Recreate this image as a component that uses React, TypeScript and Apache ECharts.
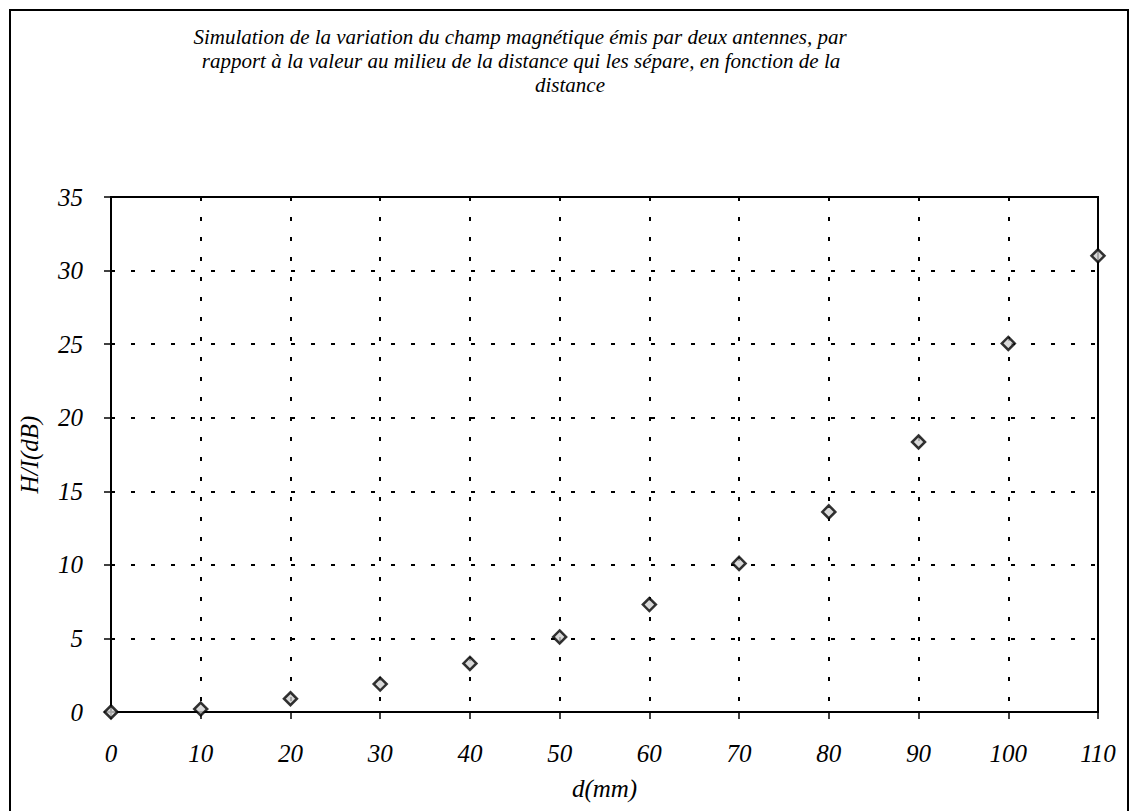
import React, { useEffect, useRef } from "react";
import * as echarts from "echarts";

const distances = [0, 10, 20, 30, 40, 50, 60, 70, 80, 90, 100, 110];
const fieldDb = [0, 0.2, 0.9, 1.9, 3.3, 5.1, 7.3, 10.1, 13.6, 18.35, 25.05, 31.0];
const titleLines = [
  "Simulation de la variation du champ magnétique émis par deux antennes, par",
  "rapport à la valeur au milieu de la distance qui les sépare, en fonction de la",
  "distance",
];
const xName = "d(mm)";
const yName = "H/I(dB)";

const FONT = "'Liberation Serif', 'Times New Roman', serif";

export default function App() {
  const ref = useRef<HTMLDivElement>(null);
  useEffect(() => {
    if (!ref.current) return;
    const chart = echarts.init(ref.current, null, { renderer: "svg" });
    const data = distances.map((d, i) => [d, fieldDb[i]]);
    const titleStyle = (text: string) => ({
      text,
      font: `italic 21px ${FONT}`,
      fill: "#000",
      align: "center",
      verticalAlign: "middle",
    });
    chart.setOption({
      animation: false,
      backgroundColor: "#ffffff",
      graphic: [
        {
          type: "rect",
          shape: { x: 10, y: 10, width: 1118, height: 830 },
          style: { fill: "none", stroke: "#000", lineWidth: 2 },
          silent: true,
        },
        { type: "text", x: 520, y: 37, style: titleStyle(titleLines[0]) },
        { type: "text", x: 521, y: 61, style: titleStyle(titleLines[1]) },
        { type: "text", x: 570, y: 85, style: titleStyle(titleLines[2]) },
      ],
      grid: {
        left: 111,
        top: 197,
        width: 987,
        height: 515,
        show: true,
        borderColor: "#000",
        borderWidth: 2,
        backgroundColor: "transparent",
      },
      xAxis: {
        type: "value",
        min: 0,
        max: 110,
        interval: 10,
        name: xName,
        nameLocation: "middle",
        nameGap: 64,
        nameTextStyle: { fontFamily: FONT, fontStyle: "italic", fontSize: 25, color: "#000" },
        axisLine: { show: true, lineStyle: { color: "#000", width: 2 } },
        axisTick: { show: true, length: 7, lineStyle: { color: "#000", width: 1.5 } },
        axisLabel: {
          fontFamily: FONT,
          fontStyle: "italic",
          fontSize: 25,
          color: "#000",
          margin: 29,
        },
        splitLine: {
          show: true,
          lineStyle: { color: "#000", width: 2, type: [4, 16] },
        },
      },
      yAxis: {
        type: "value",
        min: 0,
        max: 35,
        interval: 5,
        name: yName,
        nameLocation: "middle",
        nameGap: 69,
        nameRotate: 90,
        nameTextStyle: { fontFamily: FONT, fontStyle: "italic", fontSize: 25, color: "#000" },
        axisLine: { show: true, lineStyle: { color: "#000", width: 2 } },
        axisTick: { show: true, length: 7, lineStyle: { color: "#000", width: 1.5 } },
        axisLabel: {
          fontFamily: FONT,
          fontStyle: "italic",
          fontSize: 25,
          color: "#000",
          margin: 28,
        },
        splitLine: {
          show: true,
          lineStyle: { color: "#000", width: 2, type: [4, 16] },
        },
      },
      series: [
        {
          type: "scatter",
          data,
          symbol: "diamond",
          symbolSize: 13,
          itemStyle: { color: "#cfcfcf", borderColor: "#000", borderWidth: 2.5 },
          z: 5,
        },
      ],
    });
    return () => chart.dispose();
  }, []);
  return (
    <div
      ref={ref}
      style={{ position: "fixed", left: 0, top: 0, width: 1129, height: 811 }}
    />
  );
}
